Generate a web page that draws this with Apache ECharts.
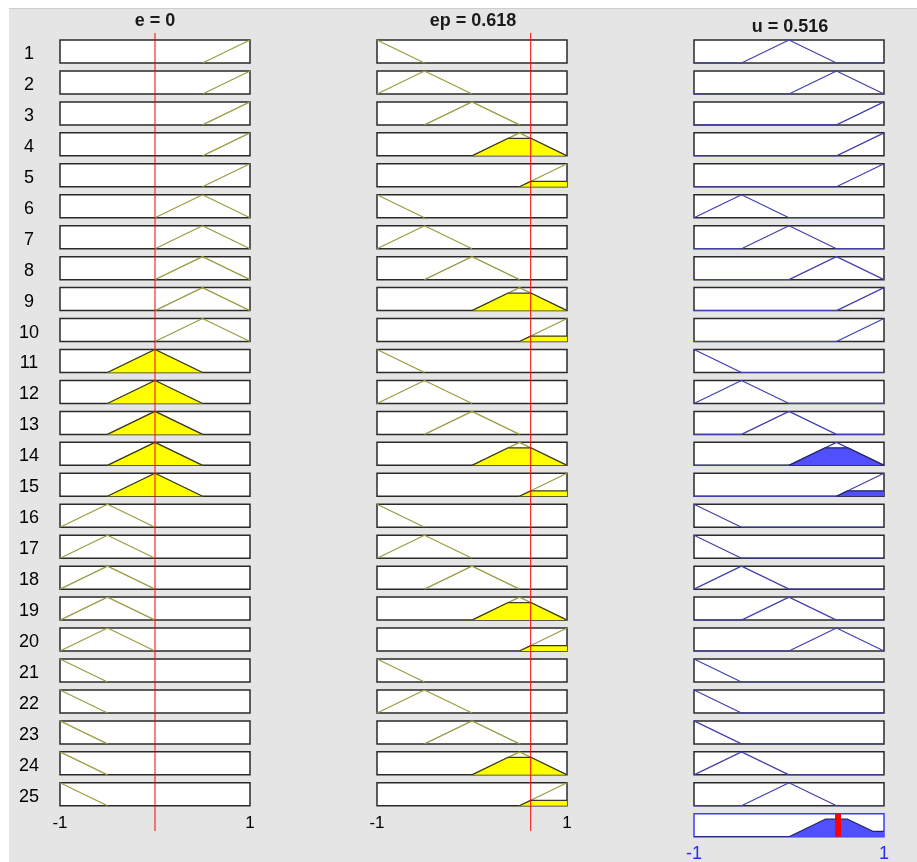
<!DOCTYPE html>
<html>
<head>
<meta charset="utf-8">
<script src="https://cdn.jsdelivr.net/npm/echarts@6/dist/echarts.min.js"></script>
<style>
  html, body { margin: 0; padding: 0; background: #ffffff; }
  #panel { position: absolute; left: 9px; top: 8px; width: 908px; height: 854px;
           background: #e5e5e5; border-top: 1px solid #cdcdcd; box-sizing: border-box; }
  #chart { position: absolute; left: 0; top: 0; width: 917px; height: 862px; }
</style>
</head>
<body>
<div id="panel"></div>
<div id="chart"></div>
<script>
// Crisp input values and the defuzzified output
const eValue = 0;
const epValue = 0.618;
const uValue = 0.516;

// Triangular membership functions shared by e, ep and u: [left foot, peak, right foot]
const mfTriangles = [[-1.5, -1, -0.5], [-1, -0.5, 0], [-0.5, 0, 0.5], [0, 0.5, 1], [0.5, 1, 1.5]];

// Rule base: membership function index used by each rule for e, ep and u
const ruleE  = [4, 4, 4, 4, 4, 3, 3, 3, 3, 3, 2, 2, 2, 2, 2, 1, 1, 1, 1, 1, 0, 0, 0, 0, 0];
const ruleEp = [0, 1, 2, 3, 4, 0, 1, 2, 3, 4, 0, 1, 2, 3, 4, 0, 1, 2, 3, 4, 0, 1, 2, 3, 4];
const ruleU  = [2, 3, 4, 4, 4, 1, 2, 3, 4, 4, 0, 1, 2, 3, 4, 0, 0, 1, 2, 3, 0, 0, 0, 1, 2];

const ruleLabels = ruleE.map((_, i) => String(i + 1));
const columnTitles = ['e = ' + eValue, 'ep = ' + epValue, 'u = ' + uValue];
const domainTicks = [-1, 1];

// ---- layout and styles ----
const FONT = '"Liberation Sans", Arial, Helvetica, sans-serif';
const colLeft = [60, 377, 694];
const colWidth = 190;
const rowTop0 = 40, rowStep = 30.95, boxHeight = 23;
const inputLine = '#9a9a40', inputFill = '#ffff00', inputEdge = '#3a3a28';
const outputLine = '#4040b0', outputFill = '#5050ff', outputEdge = '#24245e';

// ---- fuzzy helpers ----
function tri(x, t) {
  const [a, b, c] = t;
  if (x <= a || x >= c) return x === b ? 1 : 0;
  return x <= b ? (x - a) / (b - a) : (c - x) / (c - b);
}
function clipToDomain(pts) {
  const out = [];
  for (let i = 0; i < pts.length; i++) {
    const p = pts[i];
    if (i > 0) {
      const q = pts[i - 1];
      for (const edge of [domainTicks[0], domainTicks[1]]) {
        if ((q[0] - edge) * (p[0] - edge) < 0) {
          const t = (edge - q[0]) / (p[0] - q[0]);
          out.push([edge, q[1] + t * (p[1] - q[1])]);
        }
      }
    }
    if (p[0] >= domainTicks[0] && p[0] <= domainTicks[1]) out.push(p);
  }
  return out;
}
function mfOutline(t, withBase) {
  const pts = clipToDomain([[t[0], 0], [t[1], 1], [t[2], 0]]);
  if (withBase) {
    if (pts[0][0] > domainTicks[0]) pts.unshift([domainTicks[0], 0]);
    if (pts[pts.length - 1][0] < domainTicks[1]) pts.push([domainTicks[1], 0]);
  }
  return pts;
}
function mfClipped(t, d) {
  const [a, b, c] = t;
  return clipToDomain([[a, 0], [a + d * (b - a), d], [c - d * (c - b), d], [c, 0]]);
}
function evalPolyline(pts, x) {
  if (x < pts[0][0] || x > pts[pts.length - 1][0]) return 0;
  for (let i = 1; i < pts.length; i++) {
    const [x0, y0] = pts[i - 1], [x1, y1] = pts[i];
    if (x >= x0 && x <= x1) return x1 === x0 ? Math.max(y0, y1) : y0 + (y1 - y0) * (x - x0) / (x1 - x0);
  }
  return 0;
}
// Max-aggregation of the clipped output sets as an exact piecewise-linear envelope
function aggregate(shapes) {
  let xs = [domainTicks[0], domainTicks[1]];
  shapes.forEach(s => s.forEach(p => xs.push(p[0])));
  xs = Array.from(new Set(xs)).sort((a, b) => a - b);
  const extra = [];
  const fns = shapes.concat([[[domainTicks[0], 0], [domainTicks[1], 0]]]);
  for (let i = 1; i < xs.length; i++) {
    const x0 = xs[i - 1], x1 = xs[i];
    for (let j = 0; j < fns.length; j++) for (let k = j + 1; k < fns.length; k++) {
      const d0 = evalPolyline(fns[j], x0) - evalPolyline(fns[k], x0);
      const d1 = evalPolyline(fns[j], x1) - evalPolyline(fns[k], x1);
      if (d0 * d1 < 0) extra.push(x0 + (x1 - x0) * d0 / (d0 - d1));
    }
  }
  xs = Array.from(new Set(xs.concat(extra))).sort((a, b) => a - b);
  return xs.map(x => [x, Math.max(0, ...shapes.map(s => evalPolyline(s, x)))]);
}

// ---- option building ----
const grids = [], xAxes = [], yAxes = [], series = [], graphics = [];

function addGrid(left, top, width, height, gridStyle, xLabel) {
  const idx = grids.length;
  grids.push(Object.assign({ left, top, width, height, containLabel: false, outerBoundsMode: 'none' }, gridStyle));
  const xa = { gridIndex: idx, type: 'value', min: domainTicks[0], max: domainTicks[1], show: false };
  if (xLabel) {
    Object.assign(xa, {
      show: true, interval: domainTicks[1] - domainTicks[0],
      axisLine: { show: false }, axisTick: { show: false }, splitLine: { show: false },
      axisLabel: Object.assign({ show: true, showMinLabel: true, showMaxLabel: true, fontFamily: FONT }, xLabel)
    });
  }
  xAxes.push(xa);
  yAxes.push({ gridIndex: idx, type: 'value', min: 0, max: 1, show: false });
  return idx;
}
function addLine(idx, data, color, width, z, fill) {
  const s = {
    type: 'line', xAxisIndex: idx, yAxisIndex: idx, data, symbol: 'none', showSymbol: false,
    silent: true, animation: false, clip: true, z,
    lineStyle: { color, width }
  };
  if (fill) s.areaStyle = { color: fill, opacity: 1 };
  series.push(s);
}

const boxStyle = { show: true, backgroundColor: '#ffffff', borderColor: '#2a2a2a', borderWidth: 1.5 };
const firing = [];

ruleE.forEach((eIdx, r) => {
  const top = rowTop0 + r * rowStep;
  const muE = tri(eValue, mfTriangles[eIdx]);
  const muEp = tri(epValue, mfTriangles[ruleEp[r]]);
  const w = Math.min(muE, muEp);
  firing.push(w);

  // e and ep antecedent cells
  [[eIdx, muE], [ruleEp[r], muEp]].forEach(([mf, mu], c) => {
    const xLabel = r === ruleE.length - 1 ? { fontSize: 17, color: '#000000', margin: 9 } : null;
    const g = addGrid(colLeft[c], top, colWidth, boxHeight, boxStyle, xLabel);
    addLine(g, mfOutline(mfTriangles[mf], false), inputLine, 1.2, 3);
    if (mu > 0) addLine(g, mfClipped(mfTriangles[mf], mu), inputEdge, 1.2, 4, inputFill);
  });

  // u consequent cell
  const gu = addGrid(colLeft[2], top, colWidth, boxHeight, boxStyle, null);
  addLine(gu, mfOutline(mfTriangles[ruleU[r]], true), outputLine, 1.2, 3);
  if (w > 0) addLine(gu, mfClipped(mfTriangles[ruleU[r]], w), outputEdge, 1.2, 4, outputFill);

  graphics.push({
    type: 'text', x: 29, y: top + boxHeight / 2 + 2.5, silent: true,
    style: { text: ruleLabels[r], font: '18px ' + FONT, fill: '#000000',
             textAlign: 'center', textVerticalAlign: 'middle', align: 'center', verticalAlign: 'middle' }
  });
});

// Aggregated output set with the defuzzified value
const aggTop = rowTop0 + ruleE.length * rowStep;
const ga = addGrid(colLeft[2], aggTop, colWidth, boxHeight,
  { show: true, backgroundColor: '#ffffff', borderColor: '#3c3cff', borderWidth: 1.5 },
  { fontSize: 18, color: '#2a2aff', margin: 8 });
const fired = ruleU.map((u, r) => firing[r] > 0 ? mfClipped(mfTriangles[u], firing[r]) : null).filter(Boolean);
addLine(ga, aggregate(fired), outputEdge, 1.2, 4, outputFill);
addLine(ga, [[uValue, 0], [uValue, 1]], '#ff0000', 6, 6);

// Input value cursors across all rule rows
[eValue, epValue].forEach((v, c) => {
  const g = addGrid(colLeft[c], 33, colWidth, 798, { show: false }, null);
  addLine(g, [[v, 0], [v, 1]], '#ff0000', 1, 6);
});

// Column headings
[[155, 21], [473, 21], [790, 27]].forEach(([x, y], c) => {
  graphics.push({
    type: 'text', x, y, silent: true,
    style: { text: columnTitles[c], font: 'bold 18px ' + FONT, fill: '#1a1a1a',
             textAlign: 'center', textVerticalAlign: 'middle', align: 'center', verticalAlign: 'middle' }
  });
});

const chart = echarts.init(document.getElementById('chart'), null, { renderer: 'canvas' });
chart.setOption({
  backgroundColor: 'transparent',
  animation: false,
  grid: grids,
  xAxis: xAxes,
  yAxis: yAxes,
  series: series,
  graphic: { elements: graphics }
});
</script>
</body>
</html>
